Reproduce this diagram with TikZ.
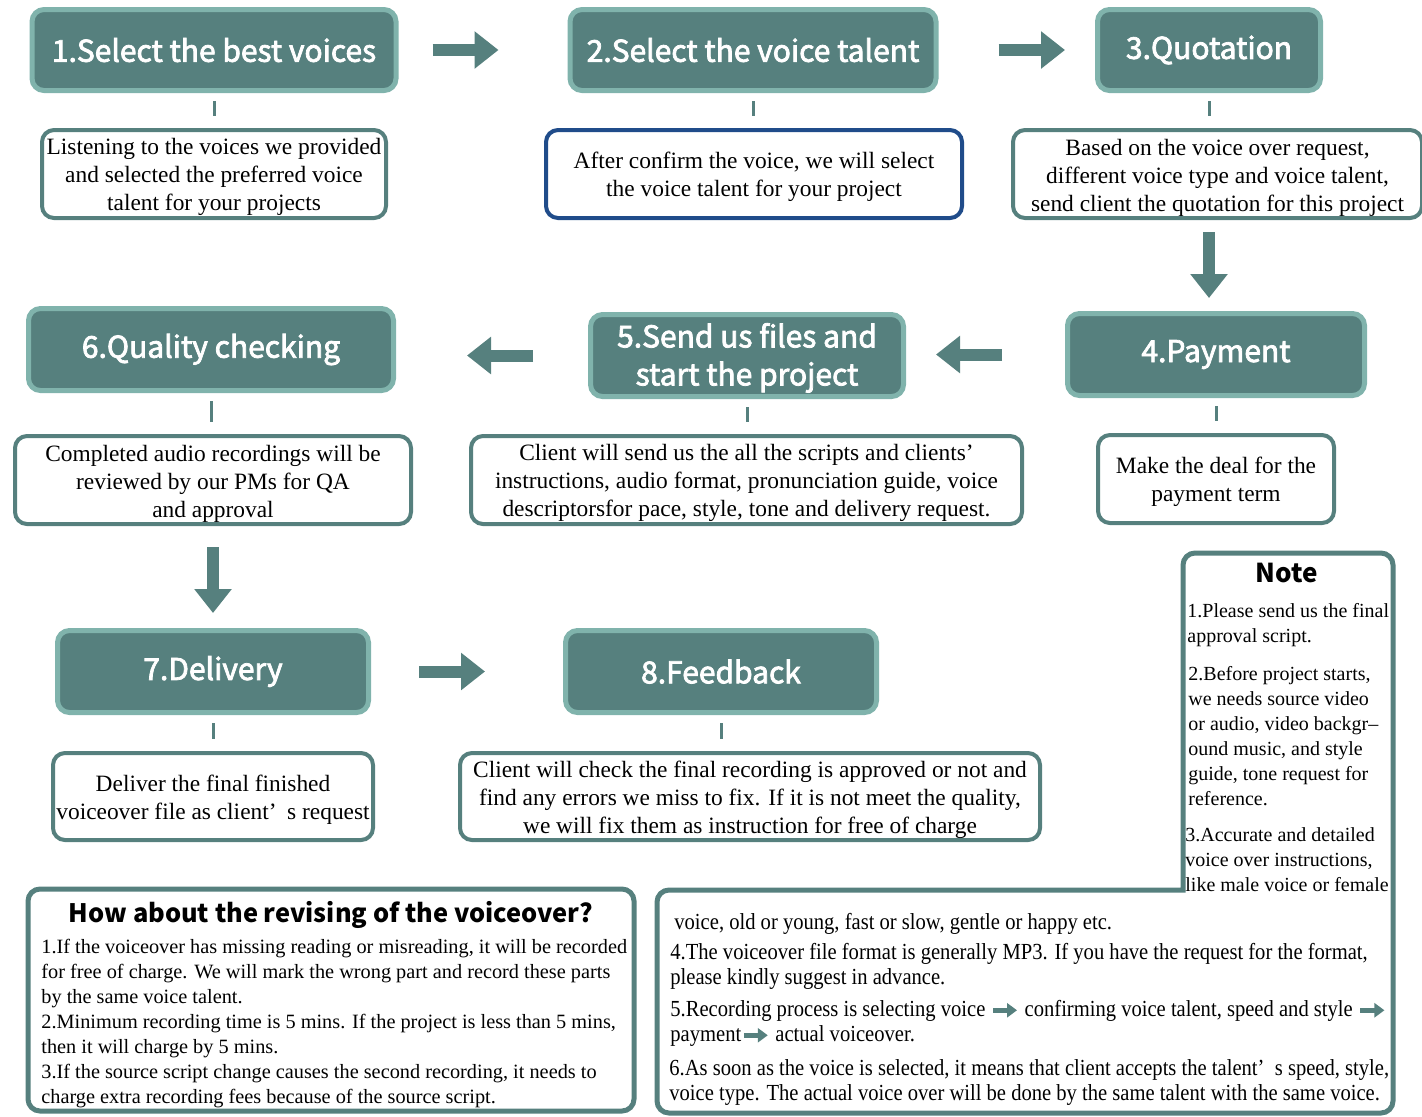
\documentclass[tikz,border=0pt]{standalone}
\usepackage{fontspec}
\setmainfont{Liberation Serif}
\newfontfamily\headfont{Noto Sans CJK SC}[FakeBold=2.5]
\newfontfamily\titlefont{Noto Sans CJK SC}
\newfontfamily\narrowserif{Liberation Serif}[FakeStretch=0.895]
\usetikzlibrary{arrows.meta}

\definecolor{tealdark}{RGB}{86,128,126}
\definecolor{teallight}{RGB}{128,179,172}
\definecolor{bluedark}{RGB}{32,76,138}

% small inline arrow used inside the notes
\newcommand{\inarrow}{\tikz[baseline=-0.6ex]\draw[tealdark,line width=2.5pt,-{Triangle[length=5pt,width=7pt]}] (0pt,0pt) -- (12pt,0pt);}
% strut that lowers the first line of a description a little
\newcommand{\firststrut}{\rule{0pt}{11.5pt}}

\tikzset{
  stepbox/.style={draw=teallight, line width=2.5pt, fill=tealdark, rounded corners=6pt,
    text=white, font=\headfont\fontsize{15}{19}\selectfont, align=center, inner sep=0pt},
  descbox/.style={draw=tealdark, line width=2pt, fill=white, rounded corners=6pt,
    align=center, inner sep=0pt, font=\fontsize{11.7}{14}\selectfont},
  tickline/.style={draw=tealdark, line width=1.5pt},
  flowarrow/.style={draw=tealdark, line width=6pt, -{Triangle[length=12pt,width=18pt]}},
  infobox/.style={draw=tealdark, line width=2.5pt, rounded corners=6pt},
  notetext/.style={anchor=north west, inner sep=0pt, align=left, font=\fontsize{10}{12.5}\selectfont},
  widetext/.style={anchor=north west, inner sep=0pt, align=left, font=\narrowserif\fontsize{11.5}{12.5}\selectfont},
}

\begin{document}
\begin{tikzpicture}[x=0.5pt,y=-0.5pt]
\useasboundingbox (0,0) rectangle (1422,1116);
\clip (0,0) rectangle (1422,1116);

% ---- step headers ----
\node[stepbox, minimum width=182pt, minimum height=40.5pt] (h1) at (214,50) {1.Select the best voices};
\node[stepbox, minimum width=183pt, minimum height=40.5pt] (h2) at (753,50) {2.Select the voice talent};
\node[stepbox, minimum width=111.5pt, minimum height=40.5pt] (h3) at (1209,50) {3.Quotation};
\node[stepbox, minimum width=148.5pt, minimum height=41pt] (h4) at (1216,354.5) {4.Payment};
\node[stepbox, minimum width=156.5pt, minimum height=41pt] (h5) at (747,355.5) {\rule{0pt}{14.5pt}5.Send us files and\\start the project};
\node[stepbox, minimum width=182.5pt, minimum height=41pt] (h6) at (211,349.5) {6.Quality checking};
\node[stepbox, minimum width=155.5pt, minimum height=41pt] (h7) at (213,671.5) {7.Delivery};
\node[stepbox, minimum width=155.5pt, minimum height=41pt] (h8) at (721,671.5) {8.Feedback};

% ---- step descriptions ----
\node[descbox, minimum width=172pt, minimum height=44pt] (d1) at (214,174)
  {\firststrut Listening to the voices we provided\\and selected the preferred voice\\talent for your projects};
\node[descbox, draw=bluedark, minimum width=208pt, minimum height=44pt] (d2) at (754,174)
  {\firststrut After confirm the voice, we will select\\the voice talent for your project};
\node[descbox, minimum width=204.5pt, minimum height=44pt] (d3) at (1217.5,174)
  {\firststrut Based on the voice over request,\\different voice type and voice talent,\\send client the quotation for this project};
\node[descbox, minimum width=118pt, minimum height=44pt] (d4) at (1216,479)
  {\firststrut Make the deal for the\\payment term};
\node[descbox, minimum width=275.5pt, minimum height=44pt] (d5) at (746.5,480)
  {\firststrut Client will send us the all the scripts and clients’\\instructions, audio format, pronunciation guide, voice\\descriptorsfor pace, style, tone and delivery request.};
\node[descbox, minimum width=198pt, minimum height=44pt] (d6) at (213,480)
  {\firststrut Completed audio recordings will be\\reviewed by our PMs for QA\\and approval};
\node[descbox, minimum width=160pt, minimum height=43.5pt] (d7) at (213,796.5)
  {\firststrut Deliver the final finished\\voiceover file as client’\hspace{0.45em}s request};
\node[descbox, minimum width=290pt, minimum height=43.5pt] (d8) at (750,796.5)
  {\firststrut Client will check the final recording is approved or not and\\find any errors we miss to fix. If it is not meet the quality,\\we will fix them as instruction for free of charge};

% ---- short ticks under each header ----
\foreach \s in {1,...,8}
  \draw[tickline, shorten <=4pt, shorten >=6pt] (h\s.south) -- (h\s.south |- d\s.north);

% ---- flow arrows ----
\draw[flowarrow, shorten <=17pt, shorten >=34.5pt] (h1.east) -- (h2.west);
\draw[flowarrow, shorten <=30pt, shorten >=15pt] (h2.east) -- (h3.west);
\draw[flowarrow, shorten <=6pt, shorten >=6.5pt] (d3.south -| h3) -- (h4.north -| h3);
\draw[flowarrow, shorten <=31.5pt, shorten >=15pt] (h4.west) -- (h5.east |- h4.west);
\draw[flowarrow, shorten <=27.5pt, shorten >=35.5pt] (h5.west) -- (h6.east |- h5.west);
\draw[flowarrow, shorten <=10.5pt, shorten >=7.5pt] (d6.south) -- (h7.north);
\draw[flowarrow, shorten <=24pt, shorten >=39pt] (h7.east) -- (h8.west);

% ---- revising box ----
\draw[infobox] (28,889) rectangle (634,1111);
\node[inner sep=0pt, font=\titlefont\bfseries\fontsize{12.7}{16}\selectfont] (revtitle) at (331,915)
  {How about the revising of the voiceover?};
\node[notetext, font=\fontsize{10.15}{12.5}\selectfont] (revtext) at (41,939)
  {1.If the voiceover has missing reading or misreading, it will be recorded\\
   for free of charge. We will mark the wrong part and record these parts\\
   by the same voice talent.\\
   2.Minimum recording time is 5 mins. If the project is less than 5 mins,\\
   then it will charge by 5 mins.\\
   3.If the source script change causes the second recording, it needs to\\
   charge extra recording fees because of the source script.};

% ---- note column joined with the lower notes box ----
\draw[infobox] (657,1000) -- (657,890) [sharp corners] -- (1183,890) [rounded corners=6pt] -- (1183,553)
  -- (1393,553) -- (1393,1113) -- (657,1113) -- cycle;
\node[inner sep=0pt, font=\titlefont\bfseries\fontsize{13}{16}\selectfont] (notetitle) at (1287,573) {Note};
\node[notetext] (note1) at (1187,603) {1.Please send us the final\\approval script.};
\node[notetext] (note2) at (1188,666) {2.Before project starts,\\we needs source video\\or audio, video backgr–\\ound music, and style\\guide, tone request for\\reference.};
\node[notetext] (note3) at (1185,827) {3.Accurate and detailed\\voice over instructions,\\like male voice or female};
\node[widetext] (note3b) at (674,913) {voice, old or young, fast or slow, gentle or happy etc.};
\node[widetext] (note4) at (670,943) {4.The voiceover file format is generally MP3. If you have the request for the format,\\please kindly suggest in advance.};
\node[widetext] (note5) at (670,1000) {5.Recording process is selecting voice \inarrow\ confirming voice talent, speed and style \inarrow\\payment\inarrow\ actual voiceover.};
\node[widetext] (note6) at (669,1059) {6.As soon as the voice is selected, it means that client accepts the talent’\hspace{0.45em}s speed, style,\\voice type. The actual voice over will be done by the same talent with the same voice.};
\end{tikzpicture}
\end{document}
